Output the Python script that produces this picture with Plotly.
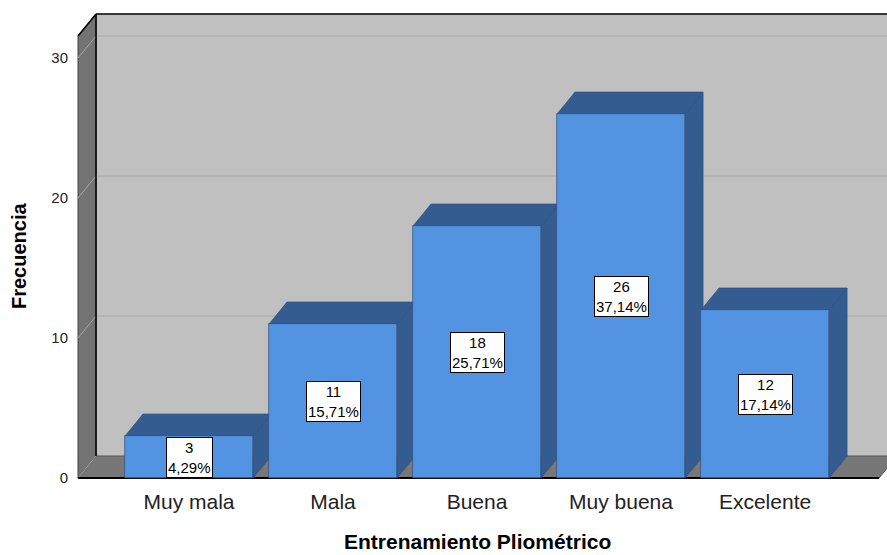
import plotly.graph_objects as go

categories = ["Muy mala", "Mala", "Buena", "Muy buena", "Excelente"]
counts = [3, 11, 18, 26, 12]
percent_labels = ["4,29%", "15,71%", "25,71%", "37,14%", "17,14%"]
y_ticks = [0, 10, 20, 30]

FONT = "Arial, Liberation Sans, sans-serif"
FRONT = "#5394e2"
DARK = "#345c91"
EDGE = "#2e4f7c"

# geometry in data units
BW = 0.889            # bar width (category units)
DX, DY = 0.125, 1.571  # depth offset
XL, XR = -0.771, 4.792  # front plane left/right
YTOP = 33.14           # top of back wall (front coords)

x_idx = list(range(len(categories)))

fig = go.Figure()

shapes = []
# back wall
shapes.append(dict(type="rect", xref="x", yref="y", x0=XL + DX, x1=XR + DX + 1, y0=DY, y1=YTOP,
                   fillcolor="#c0c0c0", line=dict(width=0), layer="below"))
# floor
shapes.append(dict(type="path", xref="x", yref="y",
                   path=f"M {XL},0 L {XR},0 L {XR+DX},{DY} L {XL+DX},{DY} Z",
                   fillcolor="#777777", line=dict(color="#555555", width=1), layer="below"))
# left wall
shapes.append(dict(type="path", xref="x", yref="y",
                   path=f"M {XL},0 L {XL+DX},{DY} L {XL+DX},{YTOP} L {XL},{YTOP-DY} Z",
                   fillcolor="#737373", line=dict(color="#404040", width=1), layer="below"))
# gridlines (back wall + left wall diagonal)
for t in y_ticks:
    if t > 0:
        shapes.append(dict(type="line", xref="x", yref="y", x0=XL + DX, x1=XR + DX + 1,
                           y0=t + DY, y1=t + DY, line=dict(color="#a8a8a8", width=1), layer="below"))
    shapes.append(dict(type="line", xref="x", yref="y", x0=XL, x1=XL + DX,
                       y0=t, y1=t + DY, line=dict(color="#a8a8a8", width=1), layer="below"))
# edges
shapes.append(dict(type="line", xref="x", yref="y", x0=XL + DX, x1=XL + DX, y0=DY, y1=YTOP,
                   line=dict(color="#000000", width=1.5), layer="below"))
shapes.append(dict(type="line", xref="x", yref="y", x0=XL + DX, x1=XR + DX + 1, y0=YTOP, y1=YTOP,
                   line=dict(color="#000000", width=1.5), layer="below"))
shapes.append(dict(type="line", xref="x", yref="y", x0=XL, x1=XL + DX, y0=YTOP - DY, y1=YTOP,
                   line=dict(color="#000000", width=1.5), layer="below"))
shapes.append(dict(type="line", xref="x", yref="y", x0=XL, x1=XR, y0=0, y1=0,
                   line=dict(color="#000000", width=2), layer="below"))

# bar tops and sides
for i, v in zip(x_idx, counts):
    l, r = i - BW / 2, i + BW / 2
    shapes.append(dict(type="path", xref="x", yref="y",
                       path=f"M {r},0 L {r+DX},{DY} L {r+DX},{v+DY} L {r},{v} Z",
                       fillcolor=DARK, line=dict(color=EDGE, width=0.7), layer="below"))
    shapes.append(dict(type="path", xref="x", yref="y",
                       path=f"M {l},{v} L {r},{v} L {r+DX},{v+DY} L {l+DX},{v+DY} Z",
                       fillcolor=DARK, line=dict(color=EDGE, width=0.7), layer="below"))

fig.add_trace(go.Bar(x=x_idx, y=counts, width=BW, marker=dict(color=FRONT, line=dict(color=EDGE, width=0.7)),
                     hoverinfo="skip", showlegend=False))

W, H, L, R, T, B = 887, 555, 76, 0, 12, 75
pw, ph = W - L - R, H - T - B

annotations = []
for i, v, p in zip(x_idx, counts, percent_labels):
    annotations.append(dict(x=i, y=v / 2, xref="x", yref="y", text=f"{v}<br>{p}", showarrow=False,
                            font=dict(family=FONT, size=15, color="#000000"),
                            bgcolor="#ffffff", bordercolor="#000000", borderwidth=1, borderpad=1))

annotations.append(dict(x=(19 - L) / pw, y=(H - 256 - B) / ph, xref="paper", yref="paper",
                        xanchor="center", yanchor="middle", text="<b>Frecuencia</b>", showarrow=False,
                        textangle=-90, font=dict(family=FONT, size=20, color="#000000")))
annotations.append(dict(x=(477 - L) / pw, y=(H - 541 - B) / ph, xref="paper", yref="paper",
                        xanchor="center", yanchor="middle", text="<b>Entrenamiento Pliométrico</b>",
                        showarrow=False, font=dict(family=FONT, size=21, color="#000000")))

fig.update_layout(
    width=W, height=H,
    margin=dict(l=L, r=R, t=T, b=B),
    paper_bgcolor="#ffffff", plot_bgcolor="#ffffff",
    shapes=shapes, annotations=annotations,
    bargap=0,
    xaxis=dict(range=[-0.785, 4.847], tickmode="array", tickvals=x_idx, ticktext=categories,
               showgrid=False, zeroline=False, showline=False, ticks="outside", ticklen=3,
               tickcolor="rgba(0,0,0,0)", tickfont=dict(family=FONT, size=21, color="#222222")),
    yaxis=dict(range=[-0.143, 33.29], tickmode="array", tickvals=y_ticks,
               showgrid=False, zeroline=False, showline=False, ticks="outside", ticklen=4,
               tickcolor="rgba(0,0,0,0)", tickfont=dict(family=FONT, size=15, color="#222222")),
)

fig.write_html("out.html")
